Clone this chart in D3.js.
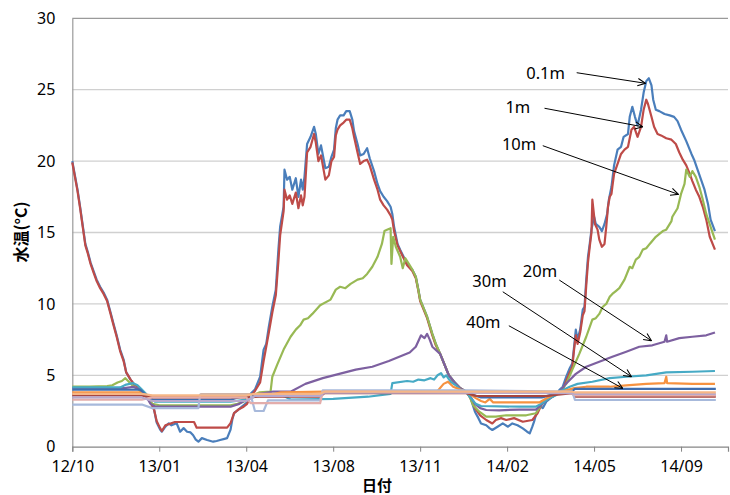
<!DOCTYPE html>
<html>
<head>
<meta charset="utf-8">
<script src="https://cdn.jsdelivr.net/npm/d3@7"></script>
<style>
  body { margin: 0; background: #fff; }
  svg text { font-family: "Noto Sans", "Noto Sans CJK JP", sans-serif; fill: #000; }
</style>
</head>
<body>
<div id="chart"></div>
<script>
// day offsets from the first reading (2012-10-06), water temperature in °C
var start = new Date(2012, 9, 6);

var d01 = [[0,20.0],[3,19.0],[6,18.0],[9,16.8],[12,15.5],[15,14.2],[18,13.6],[21,12.9],[25,12.2],[28,11.7],[32,11.2],[36,10.8],[40,10.3],[44,9.4],[47,8.7],[51,7.8],[55,6.8],[59,6.1],[62,5.2],[67,4.7],[72,4.3],[78,4.0],[82,3.8],[86,3.5],[90,3.1],[94,2.6],[97,1.7],[101,1.2],[103,1.05],[107,1.4],[111,1.64],[114,1.5],[120,1.64],[124,1.05],[128,1.3],[132,1.05],[136,1.0],[139,0.8],[142,0.5],[145,0.35],[149,0.6],[155,0.47],[162,0.35],[166,0.4],[170,0.47],[175,0.55],[178,0.6],[180,0.9],[182,1.2],[184,1.9],[186,2.35],[191,2.6],[195,2.8],[201,3.1],[205,3.7],[210,4.0],[216,4.9],[220,6.8],[223,7.2],[226,8.4],[230,9.8],[234,11.0],[237,13.8],[239,15.4],[243,16.8],[244,19.4],[247,18.7],[250,18.9],[253,18.0],[257,18.8],[260,17.5],[263,18.7],[265,18.0],[267,18.9],[270,21.2],[274,21.7],[278,22.4],[280,21.9],[283,20.5],[286,21.1],[291,19.5],[295,19.6],[298,20.3],[301,20.8],[303,22.3],[305,22.9],[308,23.2],[312,23.2],[315,23.5],[319,23.5],[322,22.9],[324,22.1],[328,21.2],[331,20.4],[335,20.5],[339,20.9],[342,20.2],[347,19.3],[351,18.4],[354,17.9],[358,17.5],[362,17.2],[366,16.8],[368,16.3],[370,15.4],[374,14.2],[377,13.8],[381,13.3],[385,12.8],[391,12.4],[395,11.9],[398,11.0],[400,10.3],[408,9.1],[414,7.9],[418,7.2],[423,6.5],[429,5.6],[433,5.0],[439,4.55],[446,4.1],[453,3.85],[458,3.4],[463.6,2.45],[467.4,2.0],[470.6,1.63],[476.3,1.5],[480.1,1.28],[483.9,1.17],[489.7,1.4],[495.4,1.63],[501.1,1.4],[506.9,1.63],[512.6,1.5],[518.4,1.28],[523,1.05],[526.1,0.93],[529.2,1.4],[531.8,1.75],[533.8,2.2],[537.6,2.9],[541.4,2.7],[545.3,3.15],[552.9,3.5],[558.6,3.74],[560.6,3.97],[564.4,4.2],[568.3,4.9],[572.1,5.5],[575.9,5.84],[577.8,7.0],[579.8,8.2],[581.6,7.5],[584.4,8.2],[587.4,9.6],[589.3,9.8],[591.3,11.7],[593.1,13.3],[595,14.2],[597,15.2],[600,16.1],[602.8,15.6],[606.6,15.4],[609.2,15.1],[612.3,15.6],[615,16.3],[617.2,17.3],[620,18.2],[623.8,19.7],[627.6,20.8],[631.5,21.0],[634.5,21.7],[639.1,21.9],[641.8,23.1],[644.8,23.8],[647.9,23.1],[650.6,22.5],[654.5,23.6],[657.1,24.8],[660.2,25.6],[663.2,25.8],[666,25.3],[668.6,24.3],[671.7,23.6],[675.5,23.5],[681.3,23.3],[687,23.2],[692.8,23.1],[696.6,22.8],[700.5,22.2],[706.2,21.4],[712,20.5],[715.7,20.1],[719.5,19.4],[723.4,18.7],[727.2,18.0],[731,17.0],[734.9,15.9],[739.9,15.1]];

var d1 = [[0,19.9],[3,18.9],[6,17.9],[9,16.7],[12,15.4],[15,14.1],[18,13.5],[21,12.8],[25,12.1],[28,11.6],[32,11.1],[36,10.7],[40,10.2],[44,9.3],[47,8.6],[51,7.7],[55,6.7],[59,6.0],[62,5.2],[67,4.7],[72,4.3],[78,4.0],[82,3.8],[86,3.5],[90,3.1],[94,2.6],[97,1.8],[101,1.3],[103,1.1],[107,1.5],[112,1.6],[118,1.73],[140,1.73],[143,1.33],[178,1.33],[182,1.65],[186,2.35],[191,2.6],[197,2.8],[201,3.0],[205,3.5],[210,3.9],[216,4.5],[220,6.0],[223,7.0],[226,8.0],[230,9.4],[234,10.6],[237,13.0],[239,14.8],[243,16.5],[244,18.0],[247,17.3],[250,17.6],[253,17.0],[257,17.8],[260,16.7],[263,17.6],[265,16.9],[267,17.5],[270,20.6],[274,21.0],[278,21.9],[280,21.3],[283,20.0],[286,20.4],[291,18.7],[295,19.0],[298,20.0],[301,20.3],[303,21.8],[305,22.2],[308,22.5],[312,22.7],[315,22.9],[319,22.9],[322,22.3],[324,21.7],[328,20.6],[331,19.8],[335,20.0],[339,20.1],[342,19.7],[347,18.7],[351,18.0],[354,17.3],[358,16.9],[362,16.6],[366,16.2],[368,15.9],[370,15.1],[374,14.1],[377,13.7],[381,13.2],[385,12.7],[391,12.3],[395,11.8],[398,10.9],[400,10.2],[408,9.0],[414,7.8],[418,7.1],[423,6.5],[429,5.6],[433,5.0],[439,4.5],[446,4.1],[453,3.85],[458,3.4],[463.6,2.7],[469.3,2.2],[476.3,1.87],[483.9,1.63],[487.8,1.87],[493.6,2.0],[499.3,1.87],[508.9,2.0],[518.4,1.75],[529.9,1.87],[535.6,2.34],[541.4,3.15],[552.9,3.5],[558.6,3.74],[564.4,4.0],[568.3,4.6],[572.1,5.2],[575.9,5.6],[577.8,6.8],[579.8,7.8],[581.6,7.2],[584.4,8.0],[587.4,9.2],[589.3,9.5],[591.3,11.3],[593.1,12.9],[595,14.0],[597,15.0],[598.9,17.3],[601.6,15.6],[604.6,15.2],[606.6,14.5],[609.2,14.0],[612.3,14.2],[614.3,15.4],[616.1,16.8],[618,17.5],[620,17.7],[621.8,18.2],[623.8,19.1],[627.6,19.8],[631.5,20.5],[635.3,20.8],[639.1,21.0],[643,22.2],[646.8,22.4],[650.6,21.7],[654.5,22.4],[657.5,23.6],[660.2,24.3],[662.5,24.0],[666,23.1],[669.8,22.4],[673.6,21.9],[677.5,21.8],[683.2,21.6],[689,21.5],[694.7,21.2],[698.5,20.6],[702.3,20.1],[706.2,19.7],[710,19.1],[713.8,18.6],[717.7,18.0],[721.5,17.5],[725.3,16.8],[729.2,15.9],[733,14.7],[739.9,13.8]];

var d10 = [[0,4.2],[20,4.2],[40,4.25],[46,4.3],[52,4.5],[57,4.6],[61,4.8],[65,4.55],[69,4.3],[77,3.97],[82,3.6],[88,3.4],[92,3.0],[100,2.9],[182,2.9],[190,3.0],[199,3.2],[205,3.5],[215,3.8],[228,3.85],[230,4.9],[236,5.8],[243,6.8],[251,7.7],[257,8.2],[262,8.5],[266,8.9],[271,9.0],[276,9.3],[285,9.9],[297,10.3],[303,11.0],[308,11.2],[314,11.1],[320,11.4],[328,11.7],[334,11.8],[339,12.1],[345,12.6],[351,13.3],[356,14.2],[359,15.1],[362,15.2],[366,15.3],[367,12.8],[369,14.7],[372,14.0],[377,13.3],[380,12.5],[383,13.2],[387,12.8],[391,12.4],[395,11.9],[400,10.3],[408,9.1],[414,7.9],[418,7.2],[423,6.5],[429,5.6],[433,5.0],[439,4.55],[446,4.1],[453.3,3.85],[457,3.5],[461,2.9],[468.6,2.45],[476.3,2.1],[487.8,2.1],[499.3,2.2],[522.3,2.2],[533.8,2.34],[539.5,2.9],[545.3,3.3],[552.9,3.6],[560.6,3.8],[568.3,4.4],[575.9,5.4],[583.6,6.5],[591.3,7.7],[598.9,8.9],[602.5,9.0],[606.6,9.3],[610,9.8],[614.3,10.0],[618,10.5],[621.8,10.7],[625.5,10.9],[629.5,11.1],[635.3,11.7],[641,12.6],[644.5,12.5],[648.7,13.1],[652.5,13.3],[656.3,13.8],[660,13.9],[664,14.2],[671.7,14.7],[679.3,15.1],[683.2,15.2],[689,15.8],[690.8,16.1],[696.6,16.7],[700.5,17.7],[704.3,18.4],[706.2,19.4],[710,18.9],[713.8,19.3],[717.7,18.9],[721.5,18.2],[725.3,17.3],[729.2,16.3],[734.9,15.4],[739.9,14.5]];

var d20 = [[0,4.1],[60,4.1],[70,4.2],[78,4.0],[84,3.6],[90,3.0],[96,2.8],[182,2.8],[192,3.0],[200,3.3],[215,3.7],[230,3.85],[251,3.85],[268,4.4],[288,4.8],[307,5.1],[326,5.4],[345,5.6],[364,6.0],[376,6.3],[388,6.6],[395,7.0],[401,7.8],[405,7.6],[408,7.9],[411,7.5],[414,7.0],[423,6.5],[429,5.6],[433,5.0],[439,4.55],[446,4.1],[453.3,3.85],[457,3.6],[463.6,3.0],[469.3,2.7],[476.3,2.57],[491.6,2.55],[514.6,2.6],[533.8,2.6],[539.5,2.9],[545.3,3.3],[552.9,3.6],[560.6,3.8],[566.3,4.3],[572.1,4.67],[579.8,5.1],[591.3,5.6],[606.6,5.95],[621.8,6.3],[637.2,6.65],[652.5,7.0],[667.8,7.1],[681.3,7.35],[683.2,7.8],[684.7,7.35],[698.5,7.6],[713.8,7.7],[729.2,7.8],[739.9,8.0]];

var d30 = [[0,4.15],[55,4.15],[62,4.35],[70,4.45],[75,4.3],[80,4.0],[88,3.5],[95,3.15],[182,3.15],[199,3.3],[215,3.6],[235,3.7],[245,3.5],[251,3.3],[300,3.35],[340,3.5],[366,3.7],[368,4.45],[385,4.6],[392,4.55],[398,4.7],[405,4.65],[412,4.8],[416,4.7],[420,5.0],[424,5.15],[427,4.85],[430,5.0],[435,4.55],[441,4.3],[446,4.0],[453.3,3.85],[457,3.5],[464,3.0],[470.6,2.85],[514.6,2.8],[533.8,2.8],[539.5,3.0],[546.8,3.3],[556,3.6],[562.9,3.9],[572.1,4.2],[581.3,4.4],[598.9,4.55],[618,4.8],[637.2,4.9],[660.2,5.0],[683.2,5.2],[713.8,5.25],[739.9,5.3]];

var d40 = [[0,3.8],[78,3.8],[88,3.55],[95,3.5],[145,3.5],[148,3.67],[230,3.67],[240,3.8],[290,3.85],[420,3.9],[427,4.4],[432,4.55],[438,4.2],[446,4.0],[453.3,3.85],[457,3.7],[464,3.4],[470.6,3.2],[475.5,3.1],[480.1,3.35],[484.7,3.1],[537.6,3.1],[543.3,3.3],[552.5,3.6],[562.9,3.85],[577.8,4.1],[591.3,4.2],[618,4.2],[637.2,4.3],[660.2,4.4],[681.3,4.45],[683.2,4.9],[684.7,4.45],[713.8,4.4],[739.9,4.4]];

var d50 = [[0,4.0],[78,4.0],[90,3.3],[182,3.3],[200,3.6],[285,3.6],[290,3.9],[453,3.9],[462,3.6],[470,3.45],[540,3.45],[555,3.7],[575,3.9],[578,4.05],[740,4.05]];
var d60 = [[0,3.6],[78,3.6],[90,3.45],[200,3.45],[215,3.5],[285,3.5],[290,3.75],[453,3.75],[465,3.55],[545,3.55],[575,3.75],[578,3.5],[740,3.5]];
var d70 = [[0,2.95],[80,2.95],[92,2.7],[145,2.7],[147,3.65],[205,3.65],[210,2.5],[220,2.5],[225,3.25],[285,3.25],[288,3.95],[453,3.95],[575,3.85],[578,3.27],[740,3.27]];
var d80 = [[0,3.3],[80,3.3],[92,3.45],[200,3.45],[205,3.05],[285,3.05],[288,3.85],[575,3.8],[578,3.6],[740,3.6]];
var d90 = [[0,3.45],[80,3.45],[92,3.2],[200,3.2],[210,3.55],[285,3.55],[290,3.8],[575,3.75],[578,3.7],[740,3.7]];
var d100 = [[0,3.7],[80,3.7],[92,3.6],[200,3.6],[210,3.7],[285,3.7],[290,3.85],[575,3.85],[578,3.8],[740,3.8]];

var depths = ["0.1m", "1m", "10m", "20m", "30m", "40m", "50m", "60m", "70m", "80m", "90m", "100m"];
var seriesData = [d01, d1, d10, d20, d30, d40, d50, d60, d70, d80, d90, d100];
var colors = ["#4A7EBB", "#BE4B48", "#98B954", "#7D60A0", "#46AAC5", "#F69240",
              "#3F6DAE", "#A9463F", "#A7B9DB", "#E3ADAB", "#B8A9CC", "#F6B686"];

var tickDays = [0, 100, 200, 300, 400, 500, 600, 700];
var tickLabels = ["12/10", "13/01", "13/04", "13/08", "13/11", "14/02", "14/05", "14/09"];
var yTicks = [0, 5, 10, 15, 20, 25, 30];

// labels with arrows: text anchor (day, °C), arrow start, arrow end
var notes = [
  { label: "0.1m", tx: 522.6, ty: 25.75, x1: 580, y1: 26.19, x2: 659.4, y2: 25.45 },
  { label: "1m",   tx: 498.5, ty: 23.37, x1: 543.3, y1: 23.7, x2: 656.3, y2: 22.4 },
  { label: "10m",  tx: 494,   ty: 20.78, x1: 541.4, y1: 21.08, x2: 697.4, y2: 17.67 },
  { label: "20m",  tx: 518,   ty: 11.88, x1: 560.6, y1: 11.67, x2: 666, y2: 7.42 },
  { label: "30m",  tx: 460.6, ty: 11.18, x1: 495, y1: 10.85, x2: 643, y2: 4.9 },
  { label: "40m",  tx: 453.7, ty: 8.31, x1: 502, y1: 8.47, x2: 633.3, y2: 4.09 }
];

/************ PAGE SET-UP ***************/
var width = 730, height = 495;
var plotLeft = 72.3, plotRight = 728, plotTop = 18.3, plotBottom = 446.7;

var svg = d3.select("#chart").append("svg")
    .attr("width", width)
    .attr("height", height);

var dayToDate = function (d) { return d3.timeDay.offset(start, d); };

var x = d3.scaleTime()
    .domain([start, dayToDate(754)])
    .range([plotLeft, plotRight]);

var y = d3.scaleLinear()
    .domain([0, 30])
    .range([plotBottom, plotTop]);

// horizontal gridlines
svg.append("g")
    .selectAll("line")
    .data(yTicks.slice(1))
    .join("line")
    .attr("x1", plotLeft)
    .attr("x2", plotRight)
    .attr("y1", d => y(d))
    .attr("y2", d => y(d))
    .attr("stroke", d => d === 30 ? "#9a9a9a" : "#d0d0d0")
    .attr("stroke-width", 1.3);

// y axis
var yAxis = svg.append("g")
    .attr("transform", "translate(" + plotLeft + ",0)")
    .call(d3.axisLeft(y).tickValues(yTicks).tickSize(0).tickPadding(17));
yAxis.select(".domain").attr("stroke", "#9a9a9a").attr("stroke-width", 1.2);
yAxis.selectAll("text").style("font-size", "16px");

// x axis
var xAxis = svg.append("g")
    .attr("transform", "translate(0," + plotBottom + ")")
    .call(d3.axisBottom(x)
        .tickValues(tickDays.map(dayToDate))
        .tickSize(5)
        .tickPadding(9)
        .tickFormat((d, i) => tickLabels[i]));
xAxis.select(".domain").attr("stroke", "#868686").attr("stroke-width", 1.2);
xAxis.selectAll(".tick line").attr("stroke", "#868686");
xAxis.selectAll("text").style("font-size", "16px");

// axis titles
svg.append("text")
    .attr("transform", "translate(27,232) rotate(-90)")
    .attr("text-anchor", "middle")
    .style("font-family", "'Noto Sans CJK JP', sans-serif")
    .style("font-size", "16px")
    .style("font-weight", "bold")
    .text("水温(°C)");

svg.append("text")
    .attr("x", 377)
    .attr("y", 491)
    .attr("text-anchor", "middle")
    .style("font-family", "'Noto Sans CJK JP', sans-serif")
    .style("font-size", "15px")
    .style("font-weight", "bold")
    .text("日付");

/************ SERIES ***************/
var line = d3.line()
    .x(d => x(dayToDate(d[0])))
    .y(d => y(d[1]));

svg.append("g")
    .selectAll("path")
    .data(seriesData)
    .join("path")
    .attr("d", line)
    .attr("fill", "none")
    .attr("stroke", (d, i) => colors[i])
    .attr("stroke-width", 2.2)
    .attr("stroke-linejoin", "round");

/************ ANNOTATIONS ***************/
svg.append("defs").append("marker")
    .attr("id", "arrow")
    .attr("viewBox", "0 0 10 10")
    .attr("refX", 9.5)
    .attr("refY", 5)
    .attr("markerWidth", 9)
    .attr("markerHeight", 9)
    .attr("markerUnits", "userSpaceOnUse")
    .attr("orient", "auto")
    .append("path")
    .attr("d", "M1,1 L9.5,5 L1,9")
    .attr("fill", "none")
    .attr("stroke", "#000")
    .attr("stroke-width", 1.2);

var note = svg.append("g").selectAll("g").data(notes).join("g");

note.append("line")
    .attr("x1", d => x(dayToDate(d.x1)))
    .attr("y1", d => y(d.y1))
    .attr("x2", d => x(dayToDate(d.x2)))
    .attr("y2", d => y(d.y2))
    .attr("stroke", "#000")
    .attr("stroke-width", 1)
    .attr("marker-end", "url(#arrow)");

note.append("text")
    .attr("x", d => x(dayToDate(d.tx)))
    .attr("y", d => y(d.ty))
    .style("font-size", "16.5px")
    .text(d => d.label);
</script>
</body>
</html>
